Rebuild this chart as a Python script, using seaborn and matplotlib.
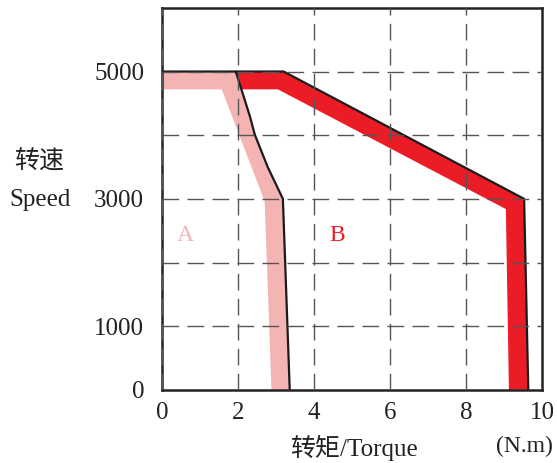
import matplotlib
matplotlib.use("Agg")
import matplotlib.pyplot as plt
import seaborn as sns
import pandas as pd

# outline of motor A (torque N.m, speed rpm)
a_outer_torque = [1.94, 2.31, 2.44, 2.78, 3.18, 3.36]
a_outer_speed = [5000, 4300, 4010, 3500, 3000, 0]
# inner edge of the A band
a_inner_torque = [2.88, 2.70, 1.57, 0.0, 0.0]
a_inner_speed = [0, 2960, 4720, 4720, 5000]

# outline of motor B
b_outer_torque = [0.0, 3.20, 9.53, 9.64]
b_outer_speed = [5000, 5000, 3000, 0]
# inner edge of the B band
b_inner_torque = [9.13, 9.05, 3.05, 2.09]
b_inner_speed = [0, 2840, 4720, 4720]

x_ticks = [0, 2, 4, 6, 8, 10]
y_ticks = [0, 1000, 2000, 3000, 4000, 5000]
y_tick_labels = ["0", "1000", "", "3000", "", "5000"]

pink = "#f4b4b4"
red = "#ec1c27"

sns.set_theme(style="white")
plt.rcParams["font.family"] = ["Liberation Serif", "Noto Sans CJK SC", "DejaVu Sans"]

fig = plt.figure(figsize=(5.57, 4.63), dpi=100)
ax = fig.add_axes([0.291, 0.158, 0.682, 0.825])

# filled bands
b_poly_x = [1.94] + b_outer_torque[1:] + b_inner_torque
b_poly_y = [5000] + b_outer_speed[1:] + b_inner_speed
ax.fill(b_poly_x, b_poly_y, color=red, lw=0)
a_poly_x = a_outer_torque + a_inner_torque
a_poly_y = a_outer_speed + a_inner_speed
ax.fill(a_poly_x, a_poly_y, color=pink, lw=0)

# black outlines
df_a = pd.DataFrame({"torque": a_outer_torque, "speed": a_outer_speed})
df_b = pd.DataFrame({"torque": b_outer_torque, "speed": b_outer_speed})
sns.lineplot(data=df_a, x="torque", y="speed", sort=False, estimator=None,
             color="#1a1a1a", lw=1.6, ax=ax)
sns.lineplot(data=df_b, x="torque", y="speed", sort=False, estimator=None,
             color="#1a1a1a", lw=1.6, ax=ax)

ax.text(0.6, 2420, "A", color=pink, fontsize=17, ha="center", va="center")
ax.text(4.62, 2420, "B", color=red, fontsize=17, ha="center", va="center")

ax.set_xlim(0, 10)
ax.set_ylim(0, 6000)
ax.set_xticks(x_ticks)
ax.set_xticklabels([str(t) for t in x_ticks])
ax.set_yticks(y_ticks)
ax.set_yticklabels(y_tick_labels)
ax.tick_params(axis="both", length=0, labelsize=18, colors="#222222")
ax.tick_params(axis="x", pad=9)
ax.tick_params(axis="y", pad=13)
ax.set_xlabel("")
ax.set_ylabel("")

ax.set_axisbelow(False)
ax.grid(True, color="#555555", lw=1.0, linestyle=(0, (12, 6)))

for s in ax.spines.values():
    s.set_color("#222222")
    s.set_linewidth(1.8)
    s.set_visible(True)

fig.text(39 / 557, 1 - 162 / 463, "转速", fontsize=18, ha="center", va="center", color="#222222")
fig.text(40 / 557, 1 - 200 / 463, "Speed", fontsize=18, ha="center", va="center", color="#222222")
fig.text(354 / 557, 1 - 448 / 463, "转矩/Torque", fontsize=18, ha="center", va="center", color="#222222")
fig.text(524 / 557, 1 - 446 / 463, "(N.m)", fontsize=17, ha="center", va="center", color="#222222")

fig.savefig("out.png", dpi=100)
